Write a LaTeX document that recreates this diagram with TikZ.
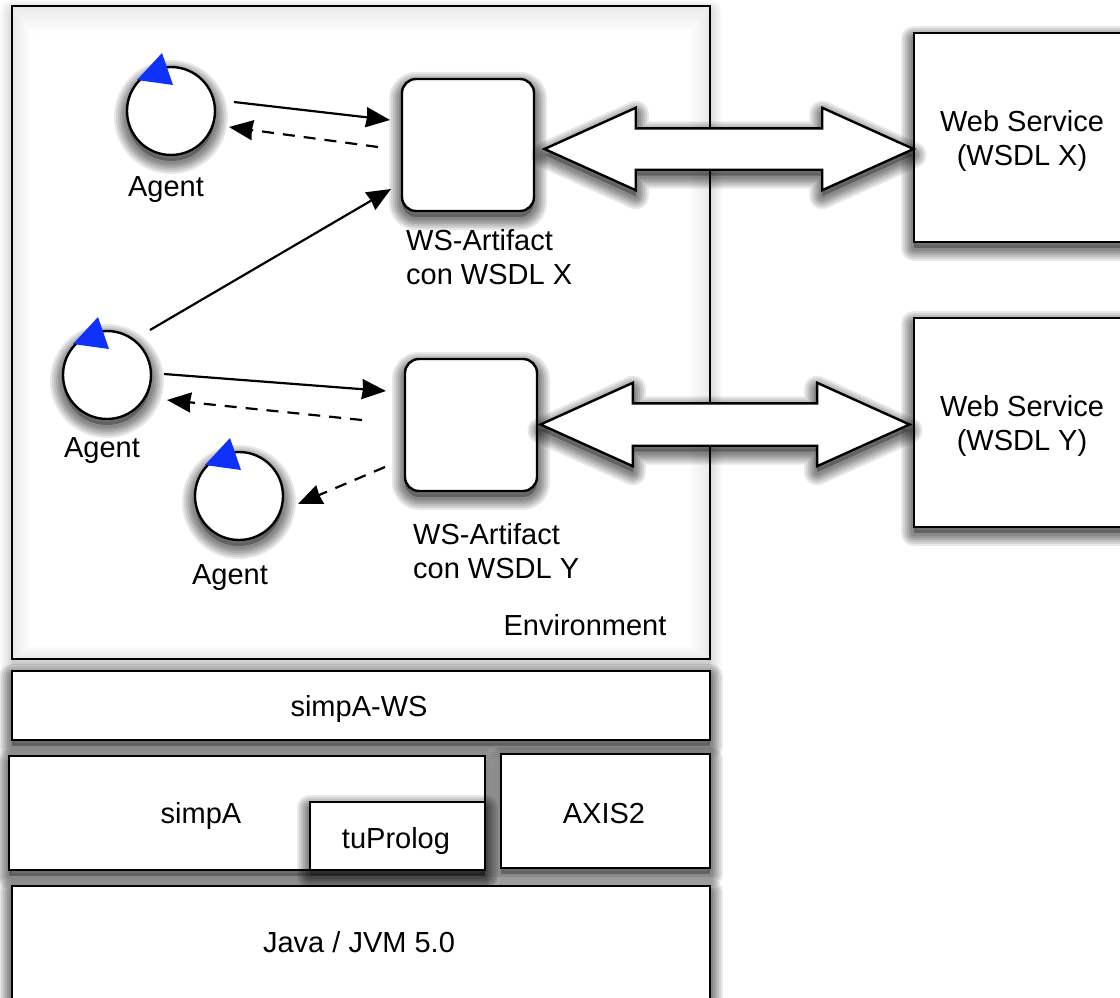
\documentclass[tikz,border=0pt]{standalone}
\usepackage{fontspec}
\setmainfont{Liberation Sans}
\usetikzlibrary{arrows.meta,shapes.arrows,calc}
\definecolor{agentblue}{RGB}{14,50,250}
\tikzset{
  x=1pt,y=-1pt,
  sl/.style 2 args={preaction={draw=black,opacity=#2,line width=#1,line join=round,transform canvas={shift={(0pt,-6pt)}}}},
  sf/.style={preaction={fill=black,opacity=#1,transform canvas={shift={(0pt,-6pt)}}}},
  softshadow/.style={sl={26pt}{.09},sl={22pt}{.09},sl={18pt}{.09},sl={14pt}{.1},sl={10pt}{.1},sl={6pt}{.1},sf=.28},
  faintshadow/.style={sl={24pt}{.025},sl={20pt}{.025},sl={16pt}{.025},sl={12pt}{.025},sl={8pt}{.025},sl={4pt}{.025},sf=.08},
  frame/.style={draw=black,line width=2.4pt,fill=white,inner sep=0pt,outer sep=0pt},
  agentbody/.style={frame,softshadow,circle,minimum size=88pt},
  artifact/.style={frame,softshadow,rectangle,rounded corners=14pt,minimum size=132pt},
  link/.style={black,line width=2.2pt,-{Stealth[inset=1pt,length=24pt,width=20pt]}},
  weblink/.style={link,dash pattern=on 12pt off 9pt},
  lab/.style={font=\fontsize{29}{34}\selectfont,inner sep=0pt,align=center,anchor=base},
  labl/.style={font=\fontsize{29}{34}\selectfont,inner sep=0pt,align=left,anchor=base west},
  bigarrow/.style={frame,softshadow,double arrow,double arrow tip angle=48.6,double arrow head extend=20.5pt,minimum width=80pt,minimum height=369pt}
}
\newcommand{\boxat}[6][softshadow]{\node[frame,#1,rectangle,minimum width=#5-#3,minimum height=#6-#4] (#2) at ({(#3+#5)/2},{(#4+#6)/2}) {};}
\newcommand{\agentat}[3]{%
  \node[agentbody] (#1) at (#2,#3) {};
  \fill[agentblue] ($(#1)+(-34,-31)$) -- ($(#1)+(-9,-58)$) -- ($(#1)+(2,-26)$) -- cycle;}
\begin{document}
\begin{tikzpicture}
\useasboundingbox (0,0) rectangle (1120,998);
\clip (0,0) rectangle (1120,998);
\fill[white] (0,0) rectangle (1120,998);

\boxat[faintshadow]{env}{12}{6}{710}{659}
\foreach \i in {1,...,10}
  \fill[black,opacity=.009,even odd rule] (13,7) rectangle (709,658)
     ({13+1.8*\i},{7+2.6*\i}) rectangle ({709-2*\i},{658-1.2*\i});

\boxat{wsx}{914}{33}{1150}{242}
\boxat{wsy}{914}{318}{1150}{527}

\node[artifact] (artx) at (468,145) {};
\node[artifact] (arty) at (471,425) {};

\agentat{ag1}{171}{111}
\agentat{ag2}{107}{375}
\agentat{ag3}{239}{496}

\node[bigarrow] (dax) at (729,149) {\rule{0pt}{39pt}};
\node[bigarrow] (day) at (725,424.5) {\rule{0pt}{40pt}};

\boxat{ws}{12}{671}{710}{740}
\boxat{simpa}{9}{756}{485}{870}
\boxat{tup}{310}{802}{485}{870}
\boxat{axis}{501}{754}{710}{868}
\boxat{java}{12}{886}{710}{1030}

\coordinate (a1o) at ($(ag1)+(63,-9)$);
\coordinate (a1i) at ($(ag1)+(58,16)$);
\coordinate (xin1) at ($(artx)+(-78,-25)$);
\coordinate (xout) at ($(artx)+(-90,2)$);
\coordinate (xin2) at ($(artx)+(-77,44)$);
\coordinate (a2o1) at ($(ag2)+(43,-45)$);
\coordinate (a2o2) at ($(ag2)+(57,-1)$);
\coordinate (a2i) at ($(ag2)+(60,25)$);
\coordinate (yin) at ($(arty)+(-85,-34)$);
\coordinate (yout1) at ($(arty)+(-109,-5)$);
\coordinate (yout2) at ($(arty)+(-86,42)$);
\coordinate (a3i) at ($(ag3)+(59,8)$);

\draw[link] (a1o) -- (xin1);
\draw[weblink] (xout) -- (a1i);
\draw[link] (a2o1) -- (xin2);
\draw[link] (a2o2) -- (yin);
\draw[weblink] (yout1) -- (a2i);
\draw[weblink] (yout2) -- (a3i);

\node[lab] (t1) at (166,196) {Agent};
\node[lab] (t2) at (102,457) {Agent};
\node[lab] (t3) at (230,584) {Agent};
\node[labl] (t4) at (406,284) {WS-Artifact\\con WSDL X};
\node[labl] (t5) at (413,578) {WS-Artifact\\con WSDL Y};
\node[lab] (t6) at (585,635) {Environment};
\node[lab] (t7) at (1022,165) {Web Service\\(WSDL X)};
\node[lab] (t8) at (1022,450) {Web Service\\(WSDL Y)};
\node[lab] (t9) at (359,716) {simpA-WS};
\node[lab] (t10) at (201,823) {simpA};
\node[lab] (t11) at (396,848) {tuProlog};
\node[lab] (t12) at (604,823) {AXIS2};
\node[lab] (t13) at (359,952) {Java / JVM 5.0};
\end{tikzpicture}
\end{document}
